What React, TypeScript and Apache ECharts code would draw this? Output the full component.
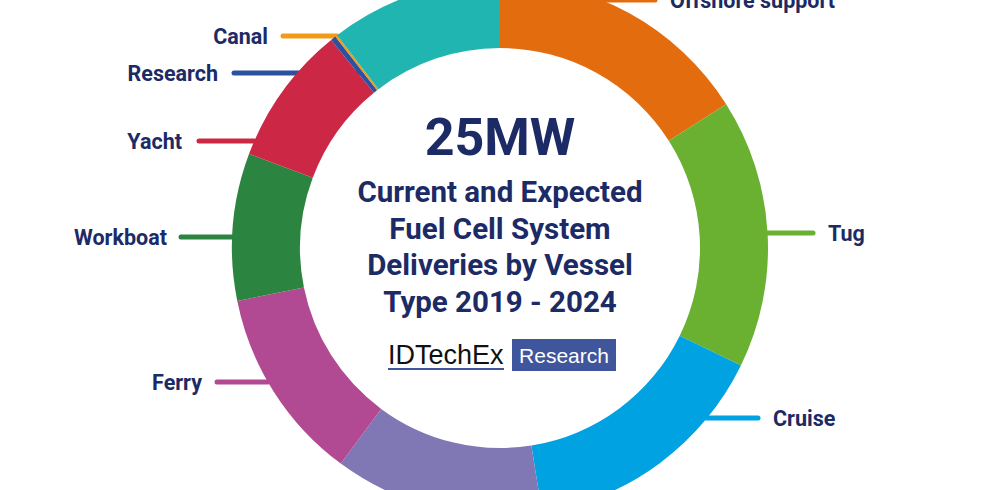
import React, { useEffect, useRef } from "react";
import * as echarts from "echarts";

// Vessel types, clockwise from 12 o'clock
const vesselTypes = [
  "Offshore support",
  "Tug",
  "Cruise",
  "Cargo",
  "Ferry",
  "Workboat",
  "Yacht",
  "Research",
  "Canal",
  "Other",
];
// Fuel cell system capacity (MW), 2019 - 2024, total ~25MW
const capacityMW = [4.0, 4.06, 3.82, 3.16, 2.93, 2.22, 2.11, 0.08, 0.035, 2.6];
const showLabel = [true, true, true, false, true, true, true, true, true, false];

const sliceColors = [
  "#e36c0f",
  "#6ab131",
  "#00a2e1",
  "#7f78b5",
  "#b24a93",
  "#2b843f",
  "#cc2846",
  "#2a52a0",
  "#f39a17",
  "#20b5b0",
];

const titleBig = "25MW";
const titleLines = [
  "Current and Expected",
  "Fuel Cell System",
  "Deliveries by Vessel",
  "Type 2019 - 2024",
];

// label layout: [lineStartX, lineEndX, y, textX, align]
const labelPlaces: [number, number, number, number, "left" | "right"][] = [
  [601, 655, 0, 670, "left"],
  [767, 813, 233, 828, "left"],
  [706, 758, 418, 773, "left"],
  [0, 0, 0, 0, "left"],
  [268, 217, 382, 202, "right"],
  [232, 181, 237, 167, "right"],
  [254, 199, 141, 182, "right"],
  [358, 234, 73, 218, "right"],
  [337, 283, 36, 268, "right"],
  [0, 0, 0, 0, "left"],
];

const NAVY = "#1c2a65";

export default function App() {
  const ref = useRef<HTMLDivElement>(null);
  useEffect(() => {
    if (!ref.current) return;
    const chart = echarts.init(ref.current, null, { renderer: "svg" });
    const data = vesselTypes.map((name, i) => ({
      name,
      value: capacityMW[i],
      itemStyle: { color: sliceColors[i] },
      label: { show: showLabel[i] },
      labelLine: {
        show: showLabel[i],
        lineStyle: { color: sliceColors[i], width: 5, cap: "round" },
      },
    }));
    const subtitleGraphics = titleLines.map((t, i) => ({
      type: "text",
      x: 500,
      y: 192 + i * 36.7,
      style: {
        text: t,
        fill: NAVY,
        font: "bold 29.5px Roboto",
        textAlign: "center",
        textVerticalAlign: "middle",
      },
    }));
    chart.setOption({
      animation: false,
      backgroundColor: "#ffffff",
      series: [
        {
          type: "pie",
          center: [500, 248],
          radius: [200, 268],
          startAngle: 90,
          clockwise: true,
          avoidLabelOverlap: false,
          silent: true,
          label: {
            show: true,
            position: "outside",
            formatter: "{b}",
            color: NAVY,
            fontFamily: "Roboto",
            fontWeight: "bold",
            fontSize: 21.5,
          },
          labelLine: { show: true, length: 10, length2: 10 },
          labelLayout: (p: any) => {
            const pl = labelPlaces[p.dataIndex];
            return {
              x: pl[3],
              y: pl[2],
              align: pl[4],
              verticalAlign: "middle",
              labelLinePoints: [
                [pl[0], pl[2]],
                [pl[0], pl[2]],
                [pl[1], pl[2]],
              ],
            };
          },
          data,
        },
      ],
      graphic: [
        {
          type: "text",
          x: 500,
          y: 137,
          style: {
            text: titleBig,
            fill: NAVY,
            font: "bold 52px Roboto",
            textAlign: "center",
            textVerticalAlign: "middle",
          },
        },
        ...subtitleGraphics,
        {
          type: "text",
          x: 388,
          y: 355,
          style: {
            text: "IDTechEx",
            fill: "#111111",
            font: "27px 'Liberation Sans'",
            textAlign: "left",
            textVerticalAlign: "middle",
          },
        },
        {
          type: "rect",
          shape: { x: 388, y: 368, width: 116, height: 2 },
          style: { fill: "#3f569c" },
        },
        {
          type: "rect",
          shape: { x: 512, y: 339, width: 104, height: 32 },
          style: { fill: "#3f569c" },
        },
        {
          type: "text",
          x: 564,
          y: 355,
          style: {
            text: "Research",
            fill: "#ffffff",
            font: "21px 'Liberation Sans'",
            textAlign: "center",
            textVerticalAlign: "middle",
          },
        },
      ],
    });
    return () => chart.dispose();
  }, []);
  return (
    <div
      ref={ref}
      style={{ position: "fixed", left: 0, top: 0, width: 1000, height: 490 }}
    />
  );
}
